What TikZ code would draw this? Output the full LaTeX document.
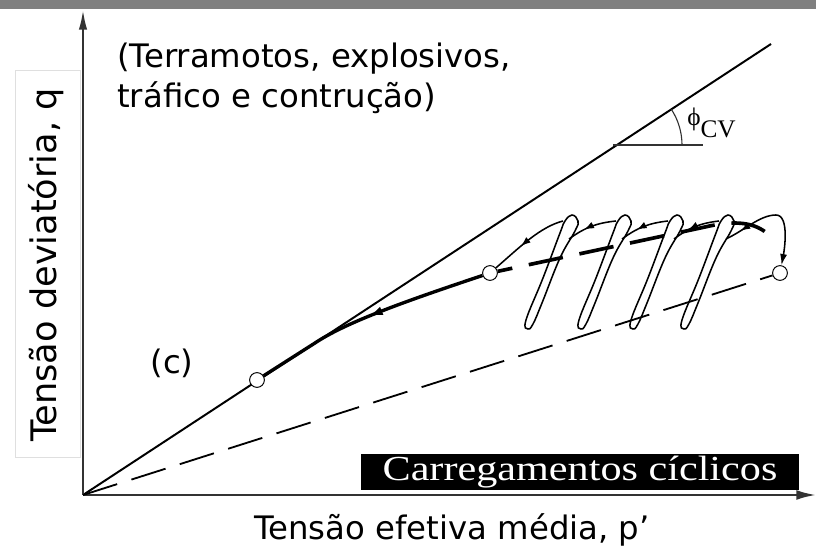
\documentclass[tikz,border=0pt]{standalone}
\usepackage{fontspec}
\setmainfont{DejaVu Sans}
\newfontfamily\serifbox{Liberation Serif}
\newfontfamily\serifwide[FakeStretch=1.2]{Liberation Serif}
\usepackage{tikz}
\usetikzlibrary{positioning}
\usetikzlibrary{arrows.meta}
\usetikzlibrary{backgrounds}
\usetikzlibrary{decorations.markings}
\tikzset{
  stress/.style={circle,draw,fill=white,line width=0.7pt,inner sep=0pt,minimum size=10.5pt},
  loopline/.style={line width=1.1pt},
  midarrow/.style={postaction={decorate},decoration={markings,mark=at position #1 with {\arrow{Latex[length=7pt,width=5pt]}}}},
  midarrowbig/.style={postaction={decorate},decoration={markings,mark=at position #1 with {\arrow{Latex[length=10pt,width=6.5pt]}}}},
}

\begin{document}
\begin{tikzpicture}[x=0.025cm,y=0.025cm,every node/.style={font=\fontsize{23}{28.3}\selectfont}]
\useasboundingbox (0,0) rectangle (816,552);
\fill[black!50] (0,543) rectangle (816,552);
\coordinate (O) at (83,57);
\coordinate (T) at (771,508);
\node[stress] (A) at (257,172) {};
\node[stress] (B) at (490,279) {};
\node[stress] (C) at (780,279) {};
% linha de estado critico e angulo
\begin{scope}[on background layer]
\draw[line width=1.4pt] (O) -- (T);
\end{scope}
\coordinate (V) at (617,407);
\draw[line width=0.9pt,black!80] (613,407) -- (703,407);
\draw[line width=0.8pt,black!80] (682,407) arc[start angle=0,end angle=33.2,radius=65];
\node[anchor=base west,inner sep=0pt] (phi) at (687,426) {\serifbox\fontsize{18}{20}\selectfont ϕ\raisebox{-8.5pt}{CV}};
% eixos
\draw[gray!25,fill=white] (15,95) rectangle (80,482);
\node[rotate=90,font=\fontsize{25}{30}\selectfont] (qlabel) at (46,287) {Tensão deviatória, q};
\draw[line width=1.5pt,black!80,-{Latex[length=14pt,width=6pt]}] (O) -- (83,542);
\draw[line width=1.6pt,black!80,-{Latex[length=14pt,width=7pt]}] (O) -- (816,57);
\node (plabel) at (452,22) {Tensão efetiva média, p’};
\draw[line width=1.3pt,dash pattern=on 25.5pt off 10.6pt] (O) -- (C);
% textos
\node[anchor=north west,align=left,inner sep=0pt] (note) at (117,509) {(Terramotos, explosivos,\\tráfico e contrução)};
\node (lblc) at (172,189) {(c)};
\node[fill=black,text=white,inner sep=0pt,minimum width=311.8pt,minimum height=25pt,font=\serifwide\fontsize{25}{27}\selectfont] (cyc) at (580,80) {Carregamentos cíclicos};
% trajetoria
\draw[line width=2.6pt,dash pattern=on 24.8pt off 12pt,dash phase=14.2pt] (B) -- (705,325) .. controls (735,332) and (755,330) .. (769,317);
\foreach \x in {527,580,632,683}
  \draw[loopline] plot[smooth cycle,tension=0.7] coordinates {(\x+1,223) (\x-1,232) (\x+16,274) (\x+33,319) (\x+38,331) (\x+45,337) (\x+51,331) (\x+48,321) (\x+33,294) (\x+15,249) (\x+6,228)};
\foreach \xa/\xb in {527/580,580/632,632/683}
  \draw[loopline,midarrow=0.65] (\xb+36,331) to[bend right=15] (\xa+42,313);
\draw[loopline,midarrow=0.6] (563,331) .. controls (540,325) and (520,305) .. (B);
\draw[loopline,{Latex[length=8pt,width=5pt]}-,midarrow=0.85] (C) .. controls (784,300) and (790,337) .. (776,337) .. controls (760,337) and (745,322) .. (726,313);
\draw[line width=2.4pt,midarrowbig=0.5] (B) .. controls (400,249) and (345,229) .. (315,209) -- (A);
\end{tikzpicture}
\end{document}
